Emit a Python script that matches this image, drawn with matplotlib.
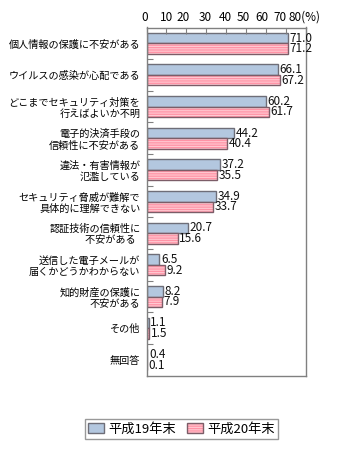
import matplotlib
matplotlib.use("Agg")
import matplotlib.pyplot as plt
import matplotlib.transforms as mtransforms
from matplotlib.patches import Patch
from matplotlib.legend_handler import HandlerTuple
import numpy as np

plt.rcParams['font.family'] = ['Noto Sans CJK JP', 'DejaVu Sans']

categories = [
    "個人情報の保護に不安がある",
    "ウイルスの感染が心配である",
    "どこまでセキュリティ対策を\n行えばよいか不明",
    "電子的決済手段の\n信頼性に不安がある",
    "違法・有害情報が\n氾濫している",
    "セキュリティ脅威が難解で\n具体的に理解できない",
    "認証技術の信頼性に\n不安がある  ",
    "送信した電子メールが\n届くかどうかわからない",
    "知的財産の保護に\n不安がある",
    "その他",
    "無回答",
]
h19 = [71.0, 66.1, 60.2, 44.2, 37.2, 34.9, 20.7, 6.5, 8.2, 1.1, 0.4]
h20 = [71.2, 67.2, 61.7, 40.4, 35.5, 33.7, 15.6, 9.2, 7.9, 1.5, 0.1]
series_labels = ["平成19年末", "平成20年末"]
xticks = [0, 10, 20, 30, 40, 50, 60, 70, 80]
xtick_labels = ["0", "10", "20", "30", "40", "50", "60", "70", "80(%)"]

W, H = 347, 451
fig = plt.figure(figsize=(W / 100, H / 100), dpi=100)
ax = fig.add_axes([146.5 / W, 1 - 375.7 / H, (305.5 - 146.5) / W, (375.7 - 27.5) / H])

blue = '#B3C7DF'
blue_edge = '#6E6E78'
pink = '#FF93A6'
pink_stripe = '#FFC9D2'
pink_edge = '#7C5D68'

plt.rcParams['hatch.linewidth'] = 0.8

y = np.arange(len(categories))
bh = 0.332
ax.barh(y - bh / 2, h19, height=bh, color=blue, edgecolor=blue_edge, linewidth=1.0)
ax.barh(y + bh / 2, h20, height=bh, color=pink, edgecolor=pink_stripe, linewidth=0, hatch='-------')
ax.barh(y + bh / 2, h20, height=bh, fill=False, edgecolor=pink_edge, linewidth=1.0)

for yi, v in zip(y, h19):
    ax.annotate(f"{v:.1f}", xy=(v, yi - bh / 2), xytext=(1.2, 0), textcoords='offset points',
                ha='left', va='center', fontsize=8.5, color='#111111')
for yi, v in zip(y, h20):
    ax.annotate(f"{v:.1f}", xy=(v, yi + bh / 2), xytext=(1.2, 0), textcoords='offset points',
                ha='left', va='center', fontsize=8.5, color='#111111')

ax.set_xlim(0, 80)
ax.set_ylim(len(categories) - 0.5, -0.5)

ax.xaxis.tick_top()
ax.set_xticks(xticks)
ax.set_xticklabels(xtick_labels, fontsize=8.5)
ax.tick_params(axis='x', direction='in', length=4, width=0.8, color='#808080', pad=2.5)

# small pixel nudges of the top tick labels (as in the reference)
nudges = [-2, 0, -3, -1, -1, -3, -4, -6, -17]
aligns = ['center'] * 8 + ['left']
for tk, dx, ha in zip(ax.xaxis.get_major_ticks(), nudges, aligns):
    tk.label2.set_horizontalalignment(ha)
    tk.label2.set_transform(tk.label2.get_transform() +
                            mtransforms.ScaledTranslation(dx / 100, 0, fig.dpi_scale_trans))

ax.set_yticks(y)
ax.set_yticklabels(categories, fontsize=7.3, linespacing=1.15)
ax.tick_params(axis='y', which='major', length=0, pad=4.5)
ax.set_yticks(np.arange(len(categories) - 1) + 0.5, minor=True)
ax.tick_params(axis='y', which='minor', direction='in', length=4, width=0.8, color='#808080')

for lab in ax.get_yticklabels():
    lab.set_multialignment('right')

for s in ax.spines.values():
    s.set_color('#808080')
    s.set_linewidth(1.0)

h_blue = Patch(facecolor=blue, edgecolor=blue_edge, linewidth=1.0)
h_pink_fill = Patch(facecolor=pink, edgecolor=pink_stripe, linewidth=0, hatch='-------')
h_pink_edge = Patch(fill=False, edgecolor=pink_edge, linewidth=1.0)
leg = fig.legend([h_blue, (h_pink_fill, h_pink_edge)], series_labels,
                 handler_map={tuple: HandlerTuple(ndivide=1)},
                 loc='center', bbox_to_anchor=(181.5 / W, 1 - 429 / H), ncol=2,
                 fontsize=9.5, frameon=True, fancybox=False, edgecolor='#808080',
                 handlelength=1.2, handleheight=0.75, handletextpad=0.35,
                 columnspacing=0.8, borderpad=0.25, borderaxespad=0)
leg.get_frame().set_linewidth(1.0)

fig.savefig('out.png', dpi=100)
